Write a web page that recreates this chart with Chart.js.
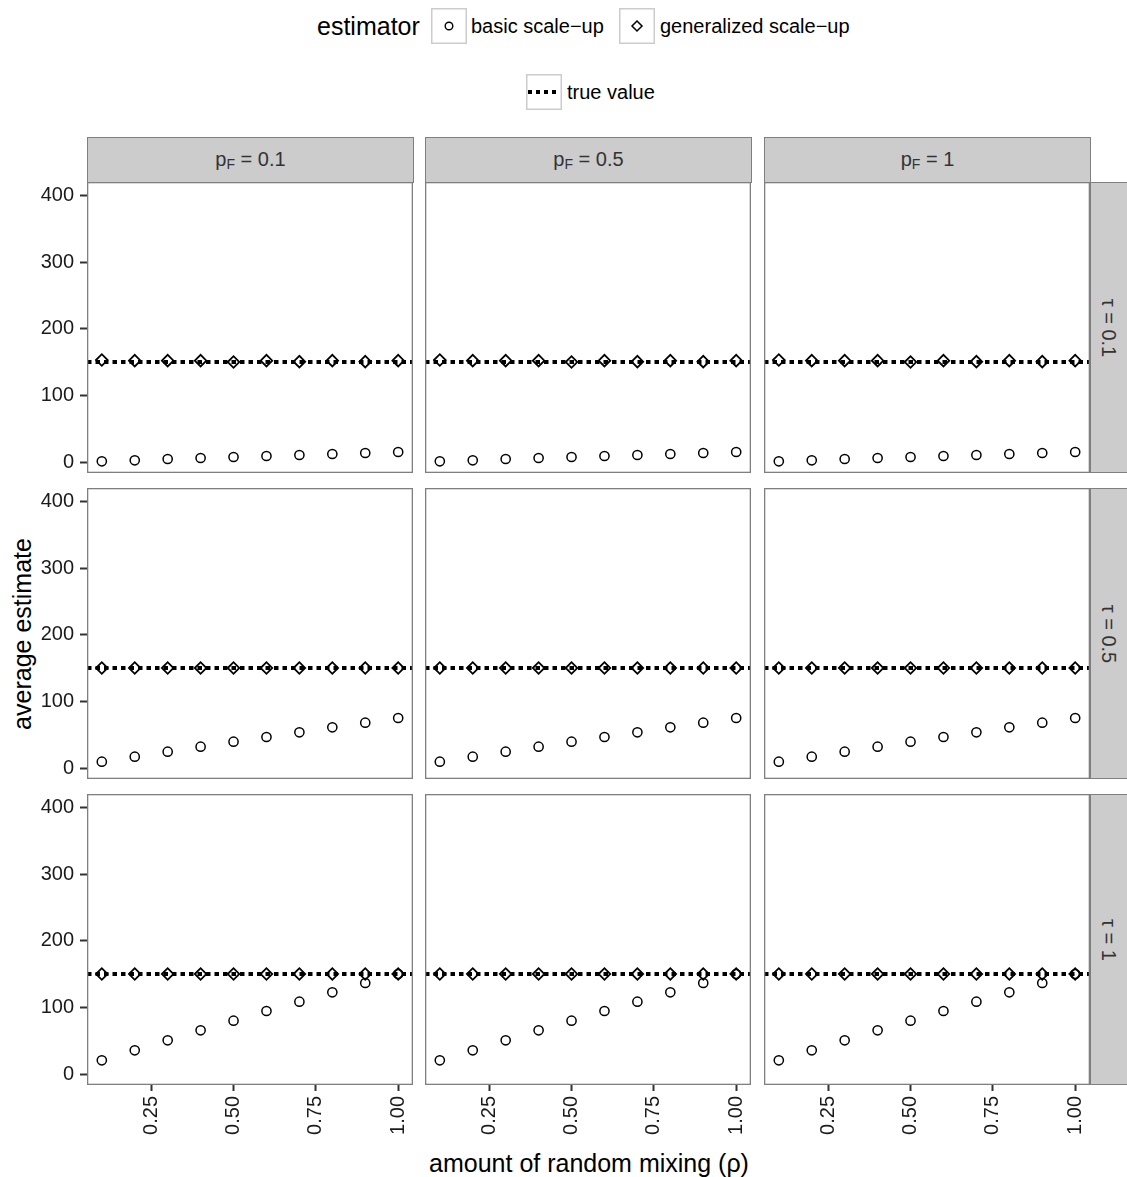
<!DOCTYPE html>
<html>
<head>
<meta charset="utf-8">
<script src="https://cdn.jsdelivr.net/npm/chart.js@4.4.1/dist/chart.umd.min.js"></script>
<style>
body { margin: 0; background: #fff; font-family: "Liberation Sans", Arial, sans-serif; }
#wrap { position: relative; width: 1127px; height: 1177px; overflow: hidden; background: #fff; }
canvas { position: absolute; }
.txt { position: absolute; white-space: nowrap; color: #000; }
.key { position: absolute; }
.strip { position: absolute; background: #cccccc; border: 1.3px solid #7f7f7f; box-sizing: border-box; color: #333; font-size: 20px; }
.strip span { position: absolute; white-space: nowrap; left: 50%; top: 50%; }
</style>
</head>
<body>
<div id="wrap">
  <!-- legend -->
  <div class="txt" style="left:317px; top:10px; font-size:25px; line-height:32px;">estimator</div>
  <svg class="key" style="left:431px; top:8px;" width="36" height="36">
    <rect x="0.75" y="0.75" width="34.5" height="34.5" fill="#fff" stroke="#cccccc" stroke-width="1.5"></rect>
    <circle cx="18" cy="18" r="3.8" fill="none" stroke="#000" stroke-width="1.4"></circle>
  </svg>
  <div class="txt" style="left:471px; top:13px; font-size:20px; line-height:26px;">basic scale−up</div>
  <svg class="key" style="left:619px; top:8px;" width="36" height="36">
    <rect x="0.75" y="0.75" width="34.5" height="34.5" fill="#fff" stroke="#cccccc" stroke-width="1.5"></rect>
    <path d="M18 13 L23 18 L18 23 L13 18 Z" fill="none" stroke="#000" stroke-width="1.5"></path>
  </svg>
  <div class="txt" style="left:660px; top:13px; font-size:20px; line-height:26px;">generalized scale−up</div>
  <svg class="key" style="left:526px; top:74px;" width="36" height="36">
    <rect x="0.75" y="0.75" width="34.5" height="34.5" fill="#fff" stroke="#cccccc" stroke-width="1.5"></rect>
    <line x1="2" y1="18" x2="34" y2="18" stroke="#000" stroke-width="4" stroke-dasharray="4 4"></line>
  </svg>
  <div class="txt" style="left:567px; top:79px; font-size:20px; line-height:26px;">true value</div>

  <!-- axis titles -->
  <div class="txt" style="left:22px; top:634px; font-size:25px; line-height:30px; transform:translate(-50%,-50%) rotate(-90deg);">average estimate</div>
  <div class="txt" style="left:589px; top:1163px; font-size:25px; line-height:30px; transform:translate(-50%,-50%);">amount of random mixing (ρ)</div>
</div>

<script>
// facets
var pfLabels = ["0.1", "0.5", "1"];
var tauLabels = ["0.1", "0.5", "1"];

// x values (rho)
var rho = [0.1, 0.2, 0.3, 0.4, 0.5, 0.6, 0.7, 0.8, 0.9, 1.0];

// basic scale-up, one per tau row
var basicTau01 = [1, 2.5, 4.5, 6, 7.5, 9, 10.5, 12, 13.5, 15];
var basicTau05 = [9.5, 17, 24.5, 32, 39.5, 46.5, 53.5, 61, 68, 75];
var basicTau1 = [20.5, 35.5, 50.5, 65.5, 80, 94.5, 108.5, 122.5, 136.5, 150];

// generalized scale-up
var generalizedTau01 = [153, 152, 152, 152, 150, 152, 150.5, 152, 150.5, 152];
var generalizedTau05 = [150, 150, 150, 150, 150, 150, 150, 150, 150, 150];
var generalizedTau1 = [150, 150, 150, 150, 150, 150, 150, 150, 150, 150];

var trueValue = 150;

// axes
var yTicks = [0, 100, 200, 300, 400];
var xTicks = [0.25, 0.5, 0.75, 1.0];
var yRange = [-16.5, 420];
var xRange = [0.055, 1.045];

var basicByTau = [basicTau01, basicTau05, basicTau1];
var generalizedByTau = [generalizedTau01, generalizedTau05, generalizedTau1];

// layout of the facet grid
var colLeft = [87, 425, 764];
var rowTop = [182, 488, 794];
var panelW = 326, panelH = 291;
var axisW = 87, axisH = 92;
var stripTop = 137, stripH = 45;
var stripRightW = 36;

var wrap = document.getElementById("wrap");

function toPoints(ys) {
    return rho.map(function (x, i) { return { x: x, y: ys[i] }; });
}

var panelBorder = {
    id: 'panelBorder',
    afterDatasetsDraw: function (chart) {
        var a = chart.chartArea;
        var ctx = chart.ctx;
        ctx.save();
        ctx.strokeStyle = '#7f7f7f';
        ctx.lineWidth = 1.3;
        ctx.strokeRect(a.left + 0.65, a.top + 0.65, a.right - a.left - 1.3, a.bottom - a.top - 1.3);
        ctx.restore();
    }
};

var tickFont = { family: '"Liberation Sans", Arial, sans-serif', size: 20 };

// top strips
pfLabels.forEach(function (lab, c) {
    var d = document.createElement("div");
    d.className = "strip";
    d.style.left = colLeft[c] + "px";
    d.style.top = stripTop + "px";
    d.style.width = (panelW + 1) + "px";
    d.style.height = (stripH + 1) + "px";
    d.innerHTML = '<span style="transform:translate(-50%,-50%);">p<sub style="font-size:14px;vertical-align:-3px;">F</sub> = ' + lab + '</span>';
    wrap.appendChild(d);
});

// right strips
tauLabels.forEach(function (lab, r) {
    var d = document.createElement("div");
    d.className = "strip";
    d.style.left = (colLeft[2] + panelW) + "px";
    d.style.top = rowTop[r] + "px";
    d.style.width = (stripRightW + 4) + "px";
    d.style.height = panelH + "px";
    d.innerHTML = '<span style="transform:translate(-50%,-50%) rotate(90deg); margin-left:-2px;">τ = ' + lab + '</span>';
    wrap.appendChild(d);
});

// panels
for (var r = 0; r < 3; r++) {
    for (var c = 0; c < 3; c++) {
        var showY = c === 0;
        var showX = r === 2;
        var cv = document.createElement("canvas");
        var w = panelW + (showY ? axisW : 0);
        var h = panelH + (showX ? axisH : 0);
        cv.width = w;
        cv.height = h;
        cv.style.left = (showY ? colLeft[c] - axisW : colLeft[c]) + "px";
        cv.style.top = rowTop[r] + "px";
        cv.style.width = w + "px";
        cv.style.height = h + "px";
        wrap.appendChild(cv);

        new Chart(cv.getContext("2d"), {
            type: 'scatter',
            data: {
                datasets: [{
                    label: 'basic scale-up',
                    data: toPoints(basicByTau[r]),
                    pointStyle: 'circle',
                    pointRadius: 4.6,
                    pointBorderWidth: 1.5,
                    borderColor: '#000',
                    backgroundColor: 'rgba(0,0,0,0)'
                }, {
                    label: 'generalized scale-up',
                    data: toPoints(generalizedByTau[r]),
                    pointStyle: 'rectRot',
                    pointRadius: 5.8,
                    pointBorderWidth: 1.8,
                    borderColor: '#000',
                    backgroundColor: 'rgba(0,0,0,0)'
                }, {
                    label: 'true value',
                    data: [{ x: xRange[0], y: trueValue }, { x: xRange[1], y: trueValue }],
                    showLine: true,
                    pointRadius: 0,
                    borderColor: '#000',
                    borderWidth: 4,
                    borderDash: [4.5, 4],
                    borderCapStyle: 'butt'
                }]
            },
            options: {
                responsive: false,
                animation: false,
                events: [],
                layout: { padding: 0, autoPadding: false },
                plugins: {
                    legend: { display: false },
                    tooltip: { enabled: false }
                },
                scales: {
                    x: {
                        type: 'linear',
                        min: xRange[0],
                        max: xRange[1],
                        display: showX,
                        border: { display: false },
                        grid: { drawOnChartArea: false, drawTicks: true, tickLength: 6, tickColor: '#333', tickWidth: 2 },
                        ticks: {
                            autoSkip: false,
                            minRotation: 90,
                            maxRotation: 90,
                            padding: 5,
                            color: '#1a1a1a',
                            font: tickFont,
                            callback: function (v) { return Number(v).toFixed(2); }
                        },
                        afterBuildTicks: function (scale) {
                            scale.ticks = xTicks.map(function (v) { return { value: v }; });
                        },
                        afterFit: function (scale) {
                            if (!scale.options.display) return;
                            scale.height = axisH;
                            scale.paddingLeft = 0;
                            scale.paddingRight = 0;
                        }
                    },
                    y: {
                        type: 'linear',
                        min: yRange[0],
                        max: yRange[1],
                        display: showY,
                        border: { display: false },
                        grid: { drawOnChartArea: false, drawTicks: true, tickLength: 7, tickColor: '#333', tickWidth: 2 },
                        ticks: {
                            padding: 6,
                            color: '#1a1a1a',
                            font: tickFont
                        },
                        afterBuildTicks: function (scale) {
                            scale.ticks = yTicks.map(function (v) { return { value: v }; });
                        },
                        afterFit: function (scale) {
                            if (!scale.options.display) return;
                            scale.width = axisW;
                            scale.paddingTop = 0;
                            scale.paddingBottom = 0;
                        }
                    }
                }
            },
            plugins: [panelBorder]
        });
    }
}
</script>
</body>
</html>
